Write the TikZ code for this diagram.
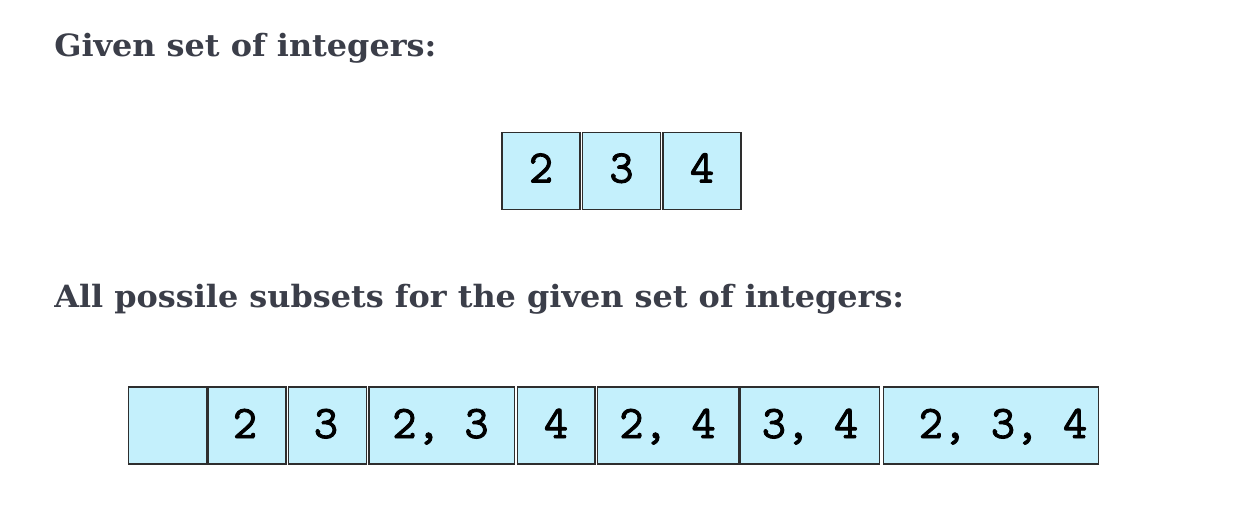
\documentclass[tikz,border=0pt]{standalone}
\usepackage{graphicx}
\usepackage{fontspec}
\setmainfont{DejaVu Serif}
\newfontfamily\cellfont{Latin Modern Mono}[FakeBold=2]
\definecolor{headc}{HTML}{3B3E49}
\definecolor{cellfill}{RGB}{196,240,252}
\definecolor{celldraw}{HTML}{2E2E2E}
\tikzset{
  cell/.style={draw=celldraw, line width=1pt, fill=cellfill, inner sep=0pt, outer sep=0pt,
    anchor=north west, minimum width=#1*0.75pt, minimum height=77*0.75pt},
  celltext/.style={font=\cellfont\fontsize{35pt}{36pt}\selectfont, text=black,
    inner sep=0pt, anchor=base},
  head/.style={font=\bfseries\fontsize{23pt}{26pt}\selectfont, text=headc, inner sep=0pt, anchor=base west}
}
\begin{document}
\begin{tikzpicture}[x=0.75pt,y=-0.75pt]
\useasboundingbox[fill=white] (0,0) rectangle (1252,504);
\node[head] (h1) at (54,56) {\scalebox{1.04}[1]{Given set of integers:}};
\node[head] (h2) at (54,307) {\scalebox{1.04}[1]{All possile subsets for the given set of integers:}};
% top row
\node[cell=78] (a1) at (502,132.5) {};
\node[cell=78] (a2) at (582.5,132.5) {};
\node[cell=78] (a3) at (663,132.5) {};
\node[celltext] (ta1) at (541,182.5) {2};
\node[celltext] (ta2) at (621.5,182.5) {3};
\node[celltext] (ta3) at (702,182.5) {4};
% bottom row
\node[cell=78] (b1) at (128.5,387) {};
\node[cell=78] (b2) at (208,387) {};
\node[cell=78] (b3) at (288.5,387) {};
\node[cell=145.5] (b4) at (369,387) {};
\node[cell=77.5] (b5) at (517.5,387) {};
\node[cell=141.5] (b6) at (597.5,387) {};
\node[cell=139] (b7) at (740.5,387) {};
\node[cell=215] (b8) at (883.5,387) {};
\node[celltext] (tb2) at (245,438) {2};
\node[celltext] (tb3) at (326,438) {3};
\node[celltext] (tb4) at (440.5,438) {2, 3};
\node[celltext] (tb5) at (556,438) {4};
\node[celltext] (tb6) at (667.5,438) {2, 4};
\node[celltext] (tb7) at (810,438) {3, 4};
\node[celltext] (tb8) at (1003,438) {2, 3, 4};
\end{tikzpicture}
\end{document}
